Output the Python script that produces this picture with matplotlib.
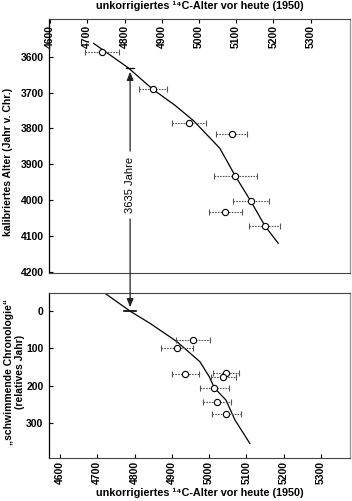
import matplotlib
matplotlib.use("Agg")
import matplotlib.pyplot as plt
from matplotlib.patches import ConnectionPatch
import numpy as np

plt.rcParams['font.family'] = ['Liberation Sans Narrow', 'Liberation Sans', 'DejaVu Sans']

# ---- data: top panel (calibrated age) ----
top_x = [4740, 4876, 4973, 5088, 5098, 5139, 5071, 5177]
top_y = [3586, 3691, 3785, 3815, 3933, 4002, 4033, 4071]
top_err = [45, 38, 46, 42, 58, 48, 45, 42]
top_curve_x = [4717, 4810, 4876, 4935, 4985, 5056, 5098, 5139, 5177, 5213]
top_curve_y = [3563, 3631, 3691, 3735, 3778, 3855, 3933, 4002, 4071, 4120]

# ---- data: bottom panel (floating chronology) ----
bot_x = [4957, 4914, 4936, 5044, 5038, 5014, 5021, 5046]
bot_y = [78, 100, 169, 165, 178, 206, 243, 277]
bot_err = [45, 42, 37, 35, 33, 40, 37, 38]
bot_curve_x = [4721, 4790, 4841, 4913, 4975, 5000, 5014, 5045, 5069, 5109]
bot_curve_y = [-47, 2, 33, 82, 136, 176, 206, 239, 292, 355]

# arrow / annotation values
arrow_c14_top = 4815
arrow_c14_bot = 4788
arrow_cal = 3631
arrow_rel = 0
span_label = "3635 Jahre"

xticks = [4600, 4700, 4800, 4900, 5000, 5100, 5200, 5300]
yticks_top = [3600, 3700, 3800, 3900, 4000, 4100, 4200]
yticks_bot = [0, 100, 200, 300]
xlabel = "unkorrigiertes \u00b9\u2074C-Alter vor heute (1950)"

fig = plt.figure(figsize=(3.52, 5.01), dpi=100)
W, H = 352, 501
def rect(l, r, t, b):
    return [l / W, 1 - b / H, (r - l) / W, (b - t) / H]

ax1 = fig.add_axes(rect(49, 350, 19, 272.7))
ax2 = fig.add_axes(rect(49, 350, 293, 458))

def style(ax):
    for s in ['top', 'bottom']:
        ax.spines[s].set_linestyle((0, (2, 1)))
        ax.spines[s].set_color('#444444')
        ax.spines[s].set_linewidth(0.8)
    ax.spines['left'].set_color('black')
    ax.spines['left'].set_linewidth(0.9)
    ax.spines['right'].set_color('#999999')
    ax.spines['right'].set_linewidth(1.0)

def draw(ax, x, y, err, cx, cy):
    ax.plot(cx, cy, color='black', lw=0.9, zorder=2)
    eb = ax.errorbar(x, y, xerr=err, fmt='o', ms=4.5, mfc='white', mec='black',
                     mew=0.8, ecolor='#555555', elinewidth=0.8, capsize=2,
                     capthick=0.8, zorder=3)
    for lc in eb[2]:
        lc.set_linestyle((0, (1.5, 1)))

# top panel
style(ax1)
draw(ax1, top_x, top_y, top_err, top_curve_x, top_curve_y)
ax1.set_xlim(4597, 5406)
ax1.set_ylim(4202, 3495)
ax1.set_xticks(xticks)
ax1.set_yticks(yticks_top)
ax1.tick_params(axis='x', top=True, bottom=False, labeltop=True, labelbottom=False,
                direction='in', length=3, pad=-21, labelrotation=90)
ax1.tick_params(axis='y', direction='in', length=3, pad=4)
for lab in ax1.get_xticklabels() + ax1.get_yticklabels():
    lab.set_fontsize(7.5); lab.set_fontweight('bold')
ax1.set_ylabel("kalibriertes Alter (Jahr v. Chr.)", fontsize=7.5, fontweight='bold')
ax1.yaxis.set_label_coords(-0.118, 0.436)

# bottom panel
style(ax2)
draw(ax2, bot_x, bot_y, bot_err, bot_curve_x, bot_curve_y)
ax2.set_xlim(4570.5, 5377.5)
ax2.set_ylim(394, -48)
ax2.set_xticks(xticks)
ax2.set_yticks(yticks_bot)
ax2.tick_params(axis='x', direction='in', length=3, pad=2, labelrotation=90)
ax2.tick_params(axis='y', direction='in', length=3, pad=4)
for lab in ax2.get_xticklabels() + ax2.get_yticklabels():
    lab.set_fontsize(7.5); lab.set_fontweight('bold')
ax2.set_ylabel("\u201eschwimmende Chronologie\u201c\n(relatives Jahr)", fontsize=7.5,
               fontweight='bold', linespacing=1.15)
ax2.yaxis.set_label_coords(-0.08, 0.52)

fig.text(200 / W, 1 - 6 / H, xlabel, ha='center', va='center', fontsize=7.8,
         fontweight='bold')
fig.text(200 / W, 1 - 493 / H, xlabel, ha='center', va='center', fontsize=7.8,
         fontweight='bold')

# arrow and span annotation
gap_top, gap_bot = 3863, 4052
ax1.annotate('', xy=(arrow_c14_top, arrow_cal + 11), xytext=(arrow_c14_top, gap_top),
             arrowprops=dict(arrowstyle='-|>,head_length=0.5,head_width=0.2',
                             color='#222222', lw=0.9, shrinkA=0, shrinkB=0))
ax1.plot([arrow_c14_top - 11, arrow_c14_top + 11], [arrow_cal, arrow_cal],
         color='black', lw=0.9)
con = ConnectionPatch(xyA=(arrow_c14_top, gap_bot), coordsA=ax1.transData,
                      xyB=(arrow_c14_bot, arrow_rel - 10), coordsB=ax2.transData,
                      arrowstyle='-|>,head_length=0.5,head_width=0.2',
                      color='#222222', lw=0.9, shrinkA=0, shrinkB=0)
fig.add_artist(con)
ax2.plot([arrow_c14_bot - 16, arrow_c14_bot + 16], [arrow_rel, arrow_rel],
         color='black', lw=1.2)
ax1.text(arrow_c14_top, (gap_top + gap_bot) / 2, span_label, rotation=90,
         ha='center', va='center', fontsize=8, family=['Liberation Sans', 'DejaVu Sans'])

fig.savefig('out.png', dpi=100)
